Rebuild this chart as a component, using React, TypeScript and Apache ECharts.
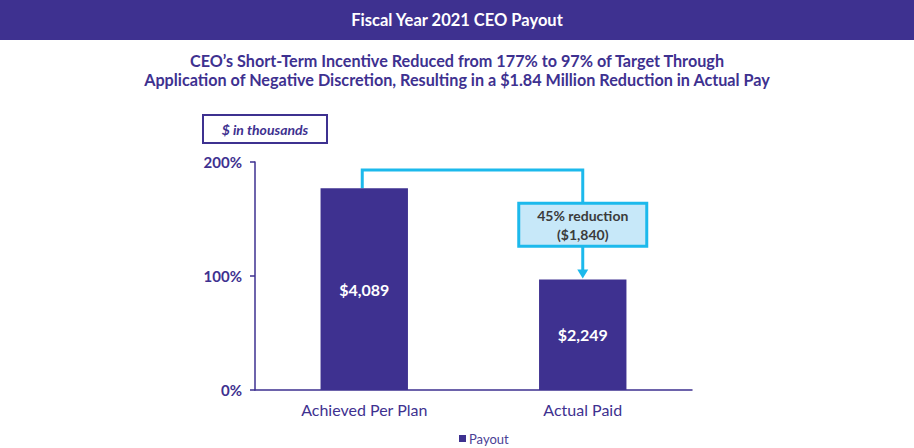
import React, { useEffect, useRef } from "react";
import * as echarts from "echarts";

const categories = ["Achieved Per Plan", "Actual Paid"];
const payoutPercent = [177, 97];
const payoutLabels = ["$4,089", "$2,249"];
const yTicks = [0, 100, 200];
const bracketLevel = 193; // % level of the connector's horizontal run
const calloutLevel = 145; // % level of the callout box centre
const calloutLines = ["45% reduction", "($1,840)"];
const headerText = "Fiscal Year 2021 CEO Payout";
const subtitleLines = [
  "CEO\u2019s Short-Term Incentive Reduced from 177% to 97% of Target Through",
  "Application of Negative Discretion, Resulting in a $1.84 Million Reduction in Actual Pay",
];

const PURPLE = "#3e3190";
const CYAN = "#1cb9ec";
const FONT = "Lato, 'Open Sans', sans-serif";

export default function App() {
  const ref = useRef<HTMLDivElement>(null);
  useEffect(() => {
    document.body.style.margin = "0";
    const chart = echarts.init(ref.current!, null, { renderer: "svg" });
    const option: any = {
      animation: false,
      textStyle: { fontFamily: FONT },
      legend: {
        data: ["Payout"],
        left: 459,
        top: 432,
        padding: 0,
        itemWidth: 7,
        itemHeight: 7,
        itemGap: 4,
        icon: "rect",
        textStyle: { color: "#4a3f96", fontSize: 13, fontFamily: FONT, padding: [0, 0, 0, -2] },
      },
      grid: { left: 255, right: 222, top: 162, bottom: 58, containLabel: false },
      xAxis: {
        type: "category",
        data: categories,
        axisLine: { show: true, lineStyle: { color: PURPLE, width: 1.5 } },
        axisTick: { show: false },
        axisLabel: { color: PURPLE, fontSize: 16, margin: 11, fontFamily: FONT },
      },
      yAxis: {
        type: "value",
        min: yTicks[0],
        max: yTicks[yTicks.length - 1],
        interval: yTicks[1] - yTicks[0],
        axisLine: { show: true, lineStyle: { color: PURPLE, width: 1.5 } },
        axisTick: { show: true, length: 5, lineStyle: { color: PURPLE, width: 1.5 } },
        splitLine: { show: false },
        axisLabel: {
          formatter: "{value}%",
          color: PURPLE,
          fontSize: 15,
          fontWeight: "bold",
          margin: 13,
          fontFamily: FONT,
        },
      },
      series: [
        {
          name: "Payout",
          type: "bar",
          data: payoutPercent,
          barWidth: "40%",
          itemStyle: { color: PURPLE },
          label: {
            show: true,
            position: "inside",
            color: "#ffffff",
            fontSize: 16,
            fontWeight: "bold",
            fontFamily: FONT,
            formatter: (p: any) => payoutLabels[p.dataIndex],
          },
        },
      ],
    };
    chart.setOption(option);

    const p1 = chart.convertToPixel({ seriesIndex: 0 }, [0, payoutPercent[0]]) as number[];
    const p2 = chart.convertToPixel({ seriesIndex: 0 }, [1, payoutPercent[1]]) as number[];
    const yB = chart.convertToPixel({ yAxisIndex: 0 }, bracketLevel) as number;
    const yC = chart.convertToPixel({ yAxisIndex: 0 }, calloutLevel) as number;
    const boxW = 128;
    const boxH = 43;
    const boxTop = yC - boxH / 2;
    const boxBottom = yC + boxH / 2;
    const x1 = p1[0] - 2;
    const x2 = p2[0];

    chart.setOption({
      graphic: [
        {
          type: "rect",
          z: -1,
          shape: { x: 0, y: 0, width: 914, height: 40 },
          style: { fill: PURPLE },
        },
        {
          type: "text",
          x: 457,
          y: 20,
          style: {
            text: headerText,
            fill: "#ffffff",
            font: `bold 16.5px ${FONT}`,
            align: "center",
            verticalAlign: "middle",
          },
        },
        {
          type: "text",
          x: 457,
          y: 69.5,
          style: {
            text: subtitleLines.join("\n"),
            fill: PURPLE,
            font: `bold 16.2px ${FONT}`,
            lineHeight: 19,
            align: "center",
            verticalAlign: "middle",
          },
        },
        {
          type: "rect",
          shape: { x: 203, y: 115, width: 124, height: 28 },
          style: { fill: "#ffffff", stroke: PURPLE, lineWidth: 2 },
        },
        {
          type: "text",
          x: 265,
          y: 129,
          style: {
            text: "$ in thousands",
            fill: PURPLE,
            font: `italic bold 14px ${FONT}`,
            align: "center",
            verticalAlign: "middle",
          },
        },
        {
          type: "polyline",
          shape: { points: [[x1, p1[1]], [x1, yB], [x2, yB], [x2, boxTop]] },
          style: { stroke: CYAN, lineWidth: 3, fill: "none" },
        },
        {
          type: "line",
          shape: { x1: x2, y1: boxBottom, x2: x2, y2: p2[1] - 8 },
          style: { stroke: CYAN, lineWidth: 3 },
        },
        {
          type: "polygon",
          shape: { points: [[x2 - 5.5, p2[1] - 10], [x2 + 5.5, p2[1] - 10], [x2, p2[1] - 1]] },
          style: { fill: CYAN },
        },
        {
          type: "rect",
          shape: { x: x2 - boxW / 2, y: boxTop, width: boxW, height: boxH },
          style: { fill: "#c7e8f9", stroke: CYAN, lineWidth: 3 },
        },
        {
          type: "text",
          x: x2,
          y: yC,
          style: {
            text: calloutLines.join("\n"),
            fill: "#3b3b3b",
            font: `bold 14px ${FONT}`,
            lineHeight: 19,
            align: "center",
            verticalAlign: "middle",
          },
        },
      ],
    });
    return () => chart.dispose();
  }, []);
  return <div ref={ref} style={{ width: 914, height: 448 }} />;
}
